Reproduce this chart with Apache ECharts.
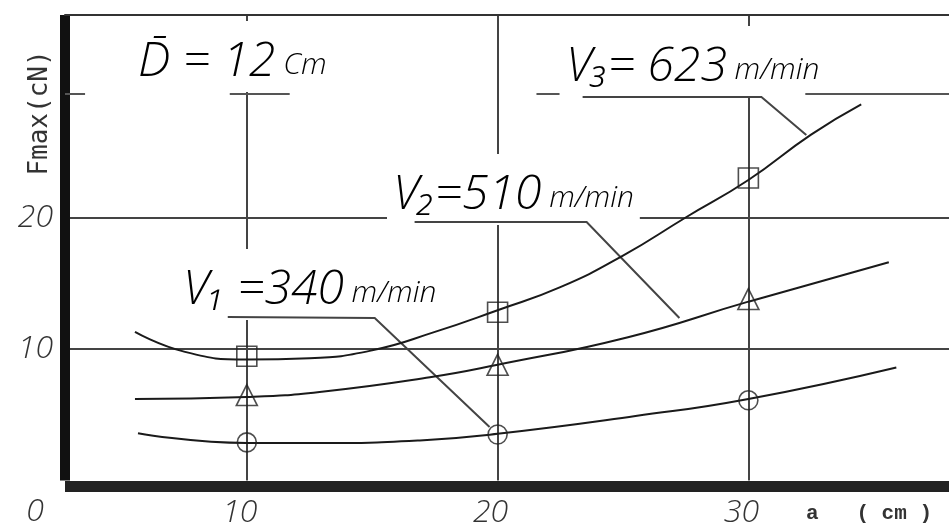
<!DOCTYPE html>
<html><head><meta charset="utf-8">
<script src="https://cdn.jsdelivr.net/npm/echarts@6/dist/echarts.min.js"></script>
<style>html,body{margin:0;padding:0;background:#fff}#c{width:949px;height:527px}</style>
</head><body><div id="c"></div>
<script>
// ---- data ----
const xTicks = [10, 20, 30];
const yTicks = [10, 20];
const pointX = [10, 20, 30];
const v1Points = [2.9, 3.5, 6.1];     // circles, V1 = 340 m/min
const v2Points = [6.5, 8.8, 13.8];    // triangles, V2 = 510 m/min
const v3Points = [9.45, 12.8, 23.0];  // squares, V3 = 623 m/min
const v1CurveX = [5.66, 10, 12.9, 16.9, 20, 25.5, 30, 35.9];
const v1CurveY = [3.6, 2.85, 2.85, 3.05, 3.55, 4.9, 6.2, 8.6];
const v2CurveX = [5.54, 10, 12.9, 17.3, 20, 25.2, 30, 35.6];
const v2CurveY = [6.2, 6.35, 6.73, 7.85, 8.8, 10.9, 13.6, 16.6];
const v3CurveX = [5.54, 7.5, 10, 12.5, 15, 17.5, 20, 22.5, 25, 27.5, 30, 32.5, 34.5];
const v3CurveY = [11.3, 9.8, 9.2, 9.3, 9.9, 11.3, 12.95, 14.7, 17.1, 20.0, 22.85, 26.3, 28.6];
const v1LeaderX = [9.24, 15.1, 19.68];
const v1LeaderY = [12.43, 12.36, 4.07];
const v2LeaderX = [16.69, 23.55, 27.25];
const v2LeaderY = [19.66, 19.66, 12.36];
const v3LeaderX = [23.39, 30.52, 32.31];
const v3LeaderY = [29.16, 29.16, 26.27];
const grid30Y = 29.4;
const grid30Starts = [2.75, 9.32, 21.55, 32.27];
const grid30Ends = [3.55, 11.71, 22.47, 38];
const xMin = 2.75, xMax = 38, yMin = 0, yMax = 35.4;
const labelD = ['D\u0304 = 12', ' Cm'];
const labelV3 = ['V\u2083= 623', ' m/min'];
const labelV2 = ['V\u2082=510', ' m/min'];
const labelV1 = ['V\u2081 =340', ' m/min'];
const yName = 'Fmax(cN)';
const xName = 'a   ( cm )';
const originLabel = '0';

// ---- build ----
const zip = (xs, ys) => xs.map((x, i) => [x, ys[i]]);
const FONT = 'Open Sans';
const tickFont = {fontFamily: FONT, fontStyle: 'italic', fontWeight: 300, fontSize: 32, color: '#333'};
const curveStyle = {color: '#1a1a1a', width: 2};
const markerStyle = {color: 'rgba(0,0,0,0)', borderColor: '#222', borderWidth: 1.6};
const leaderStyle = {color: '#444', width: 2, opacity: 1};

function richLabel(parts, x, y) {
  return {
    type: 'text', z: 1, x: x, y: y,
    style: {
      text: '{a|' + parts[0] + '}{b|' + parts[1] + '}',
      align: 'left', verticalAlign: 'bottom',
      textAlign: 'left', textVerticalAlign: 'bottom',
      backgroundColor: '#fff', padding: [12, 6, 6, 6],
      rich: {
        a: {fontFamily: FONT, fontStyle: 'italic', fontWeight: 300, fontSize: 48, color: '#2a2a2a', verticalAlign: 'bottom', lineHeight: 53},
        b: {fontFamily: FONT, fontStyle: 'italic', fontWeight: 300, fontSize: 30, color: '#2a2a2a', verticalAlign: 'bottom', lineHeight: 53, padding: [0, 0, 6, 0]}
      }
    }
  };
}

const chart = echarts.init(document.getElementById('c'), null, {renderer: 'canvas'});
chart.setOption({
  animation: false,
  backgroundColor: '#fff',
  grid: {left: 65, right: 0, top: 15, bottom: 46.5, containLabel: false, outerBoundsMode: 'none'},
  xAxis: [{
    type: 'value', min: xMin, max: xMax, position: 'bottom', offset: 6,
    axisLine: {show: true, onZero: false, lineStyle: {color: '#222', width: 11, cap: 'butt'}},
    axisTick: {show: false, customValues: xTicks},
    axisLabel: Object.assign({customValues: xTicks, margin: 10, padding: [0, 14, 0, 0]}, tickFont),
    splitLine: {show: true, lineStyle: {color: '#444', width: 2}}
  }, {
    type: 'value', min: xMin, max: xMax, position: 'top',
    axisLine: {show: true, onZero: false, lineStyle: {color: '#333', width: 2}},
    axisTick: {show: false}, axisLabel: {show: false}, splitLine: {show: false}
  }],
  yAxis: [{
    type: 'value', min: yMin, max: yMax, position: 'left',
    axisLine: {show: true, onZero: false, lineStyle: {color: '#111', width: 10, cap: 'butt'}},
    axisTick: {show: false, customValues: yTicks},
    axisLabel: Object.assign({customValues: yTicks, margin: 12}, tickFont),
    splitLine: {show: true, lineStyle: {color: '#444', width: 2}}
  }],
  series: [
    {type: 'line', data: zip(v1CurveX, v1CurveY), smooth: true, showSymbol: false, lineStyle: curveStyle, z: 3},
    {type: 'line', data: zip(v2CurveX, v2CurveY), smooth: true, showSymbol: false, lineStyle: curveStyle, z: 3},
    {type: 'line', data: zip(v3CurveX, v3CurveY), smooth: true, showSymbol: false, lineStyle: curveStyle, z: 3},
    {type: 'scatter', data: zip(pointX, v1Points), symbol: 'circle', symbolSize: 19, itemStyle: markerStyle, z: 4},
    {type: 'scatter', data: zip(pointX, v2Points), symbol: 'triangle', symbolSize: 21, itemStyle: markerStyle, z: 4},
    {type: 'scatter', data: zip(pointX, v3Points), symbol: 'rect', symbolSize: 20, itemStyle: markerStyle, z: 4},
    {type: 'lines', coordinateSystem: 'cartesian2d', polyline: true, z: 3,
     lineStyle: leaderStyle,
     data: [
       {coords: zip(v1LeaderX, v1LeaderY)},
       {coords: zip(v2LeaderX, v2LeaderY)},
       {coords: zip(v3LeaderX, v3LeaderY)}
     ]},
    {type: 'lines', coordinateSystem: 'cartesian2d', z: 3,
     lineStyle: {color: '#555', width: 2, opacity: 1},
     data: grid30Starts.map((s, i) => ({coords: [[s, grid30Y], [grid30Ends[i], grid30Y]]}))}
  ],
  graphic: [
    richLabel(labelD, 132, 92),
    richLabel(labelV3, 560, 97),
    richLabel(labelV2, 387, 225),
    richLabel(labelV1, 177, 320),
    {type: 'text', z: 1, x: 40, y: 113, rotation: Math.PI / 2,
     style: {text: yName, font: '26px "DejaVu Sans Mono"', fill: '#333',
             align: 'center', verticalAlign: 'middle', textAlign: 'center', textVerticalAlign: 'middle'}},
    {type: 'text', z: 1, x: 806, y: 514,
     style: {text: xName, font: 'bold 21px "Liberation Mono"', fill: '#333',
             align: 'left', verticalAlign: 'middle', textAlign: 'left', textVerticalAlign: 'middle'}},
    {type: 'text', z: 1, x: 35, y: 512,
     style: {text: originLabel, font: 'italic 300 32px "Open Sans"', fill: '#333',
             align: 'center', verticalAlign: 'middle', textAlign: 'center', textVerticalAlign: 'middle'}}
  ]
});
</script>
</body></html>
